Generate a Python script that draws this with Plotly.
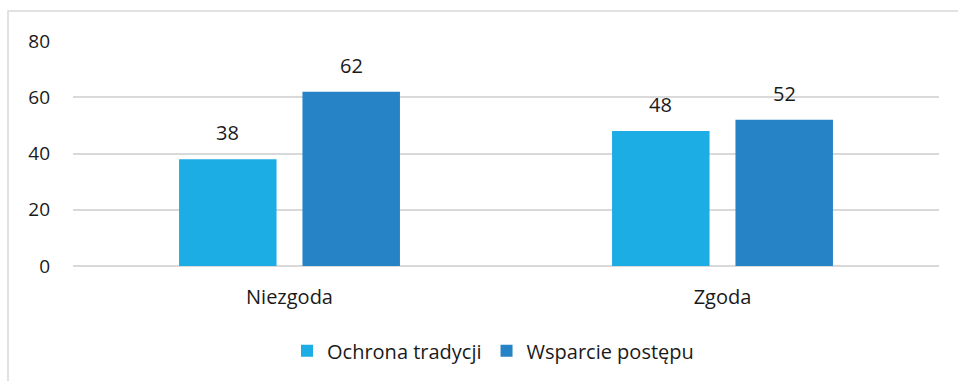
import plotly.graph_objects as go

categories = ["Niezgoda", "Zgoda"]
ochrona_tradycji = [38, 48]
wsparcie_postepu = [62, 52]
y_ticks = [0, 20, 40, 60, 80]

FONT = "Open Sans"
TEXT = "#1a1a1a"
L, R, T, B = 73, 19, 41, 115
W, H = 958, 381
pw, ph = W - L - R, H - T - B

BARGAP, GROUPGAP = 0.43, 0.21
series = [
    ("Ochrona tradycji", ochrona_tradycji, "#1CADE4"),
    ("Wsparcie postępu", wsparcie_postepu, "#2683C6"),
]

fig = go.Figure()
for name, vals, color in series:
    fig.add_trace(go.Bar(
        x=categories, y=vals, name=name,
        marker=dict(color=color, line=dict(width=0)),
    ))

# value labels above each bar, offset to the bar's slot within its group
slot_px = pw / len(categories) * (1 - BARGAP) / len(series)
for i, (name, vals, color) in enumerate(series):
    offset = (i - (len(series) - 1) / 2) * slot_px
    for cat, v in zip(categories, vals):
        fig.add_annotation(x=cat, y=v, text=str(v), showarrow=False,
                           xshift=offset, yanchor="bottom", yshift=11,
                           font=dict(size=20, color=TEXT, family=FONT))

# light frame around the chart area
fig.add_shape(type="rect", xref="paper", yref="paper",
              x0=(8 - L) / pw, x1=(W + 40 - L) / pw,
              y0=-(H + 40 - (H - B)) / ph, y1=(H - B - 11) / ph,
              line=dict(color="#D9D9D9", width=1.5), layer="below")

fig.update_layout(
    width=W, height=H,
    margin=dict(l=L, r=R, t=T, b=B, autoexpand=False),
    paper_bgcolor="white", plot_bgcolor="white",
    font=dict(family=FONT, size=18, color=TEXT),
    barmode="group", bargap=BARGAP, bargroupgap=GROUPGAP,
    showlegend=True,
    legend=dict(orientation="h", x=0.485, xanchor="center", y=-0.29, yanchor="top",
                font=dict(size=20, family=FONT, color=TEXT), traceorder="normal",
                itemwidth=30),
)
fig.update_xaxes(showgrid=False, showline=False, ticks="", tickfont=dict(size=20),
                 ticklabelstandoff=17, automargin=False)
fig.update_yaxes(range=[0, 80], tickvals=y_ticks, showgrid=True, gridcolor="#D9D9D9",
                 gridwidth=1.5, zeroline=True, zerolinecolor="#D9D9D9", zerolinewidth=1.5,
                 showline=False, ticks="", tickfont=dict(size=19), ticklabelstandoff=22,
                 automargin=False)

fig.write_html("out.html")
